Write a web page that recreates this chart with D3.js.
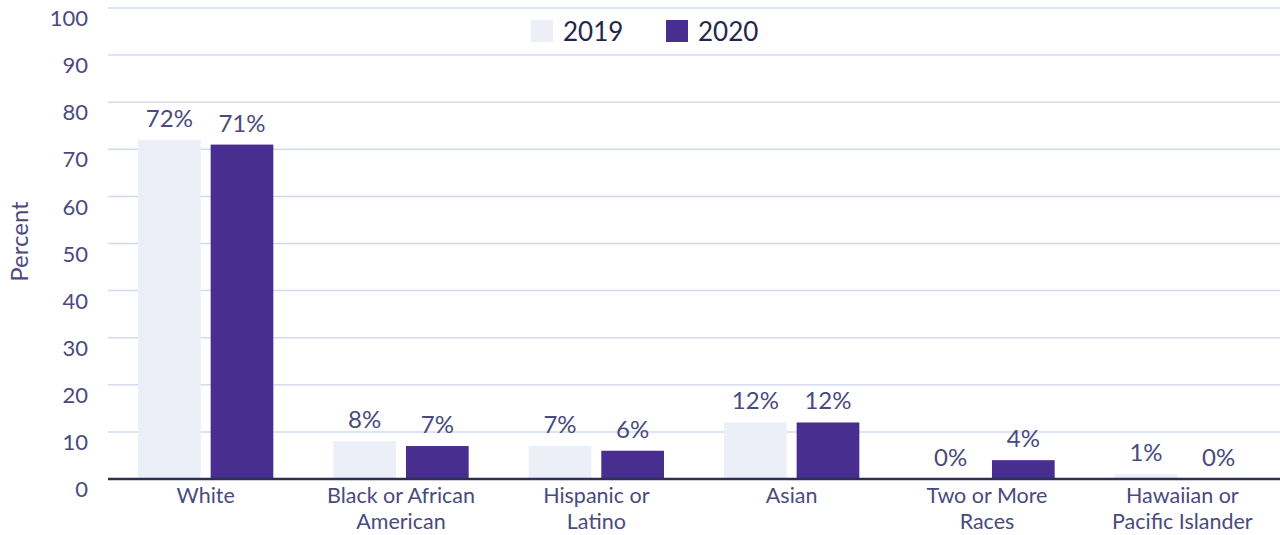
<!DOCTYPE html>
<html>
<head>
<meta charset="utf-8">
<script src="https://cdn.jsdelivr.net/npm/d3@7"></script>
<style>
  body { margin: 0; background: #fff; }
  text { font-family: Lato, "Open Sans", sans-serif; }
</style>
</head>
<body>
<div id="chart"></div>
<script>
// --- Data ---
const categories = [
  ["White"],
  ["Black or African", "American"],
  ["Hispanic or", "Latino"],
  ["Asian"],
  ["Two or More", "Races"],
  ["Hawaiian or", "Pacific Islander"]
];
const years = ["2019", "2020"];
const values2019 = [72, 8, 7, 12, 0, 1];
const values2020 = [71, 7, 6, 12, 4, 0];
const yTicks = [0, 10, 20, 30, 40, 50, 60, 70, 80, 90, 100];

const W = 1280, H = 535;
const margin = { top: 8, right: 0, bottom: 56, left: 108 };
const width = W - margin.left - margin.right,
      height = H - margin.top - margin.bottom;

const colors = { "2019": "#eceef8", "2020": "#482f8f" };
const textColor = "#4a4a7e";

const svg = d3.select("#chart").append("svg")
  .attr("width", W).attr("height", H)
  .append("g")
  .attr("transform", `translate(${margin.left},${margin.top})`);

const x = d3.scaleBand()
  .domain(d3.range(categories.length))
  .range([0, width]);

const xSub = d3.scaleBand()
  .domain(years)
  .range([30, x.bandwidth() - 30])
  .paddingInner(0.137);

const y = d3.scaleLinear().domain([0, 100]).range([height, 0]);

// --- Gridlines ---
svg.append("g")
  .selectAll("line")
  .data(yTicks.filter(d => d > 0))
  .join("line")
    .attr("x1", 0).attr("x2", width)
    .attr("y1", d => y(d)).attr("y2", d => y(d))
    .attr("stroke", "#d3dbef").attr("stroke-width", 1.5);

// --- Y axis (labels sit a little below their gridline) ---
const yAxis = svg.append("g")
  .call(d3.axisLeft(y).tickValues(yTicks).tickSize(0).tickPadding(20));
yAxis.select(".domain").remove();
yAxis.selectAll("text")
  .attr("fill", textColor)
  .style("font-size", "22px")
  .attr("dy", "0.8em");

svg.append("text")
  .attr("transform", `translate(${-80},${height / 2 - 2}) rotate(-90)`)
  .attr("text-anchor", "middle")
  .attr("fill", textColor)
  .style("font-size", "24px")
  .text("Percent");

// --- Bars ---
const series = [
  { year: "2019", values: values2019 },
  { year: "2020", values: values2020 }
];

series.forEach(s => {
  const g = svg.append("g");
  g.selectAll("rect")
    .data(s.values)
    .join("rect")
      .attr("x", (d, i) => x(i) + xSub(s.year))
      .attr("y", d => y(d))
      .attr("width", xSub.bandwidth())
      .attr("height", d => height - y(d))
      .attr("fill", colors[s.year]);
  g.selectAll("text")
    .data(s.values)
    .join("text")
      .attr("x", (d, i) => x(i) + xSub(s.year) + xSub.bandwidth() / 2)
      .attr("y", d => y(d) - 13)
      .attr("text-anchor", "middle")
      .attr("fill", textColor)
      .style("font-size", "24px")
      .text(d => d + "%");
});

// --- Baseline ---
svg.append("line")
  .attr("x1", 0).attr("x2", width)
  .attr("y1", height).attr("y2", height)
  .attr("stroke", "#2e2d52").attr("stroke-width", 2.5);

// --- Category labels ---
const cat = svg.append("g");
categories.forEach((lines, i) => {
  const t = cat.append("text")
    .attr("x", x(i) + x.bandwidth() / 2)
    .attr("y", height + 24)
    .attr("text-anchor", "middle")
    .attr("fill", textColor)
    .style("font-size", "21.5px");
  lines.forEach((l, j) => {
    t.append("tspan")
      .attr("x", x(i) + x.bandwidth() / 2)
      .attr("dy", j === 0 ? 0 : 26)
      .text(l);
  });
});

// --- Legend ---
const legend = svg.append("g")
  .attr("transform", `translate(${531 - margin.left},${20 - margin.top})`);
years.forEach((yr, i) => {
  const l = legend.append("g").attr("transform", `translate(${i * 135},0)`);
  l.append("rect")
    .attr("width", 22).attr("height", 22)
    .attr("fill", colors[yr]);
  l.append("text")
    .attr("x", 32).attr("y", 21)
    .attr("fill", "#26264a")
    .style("font-size", "26px")
    .text(yr);
});
</script>
</body>
</html>
